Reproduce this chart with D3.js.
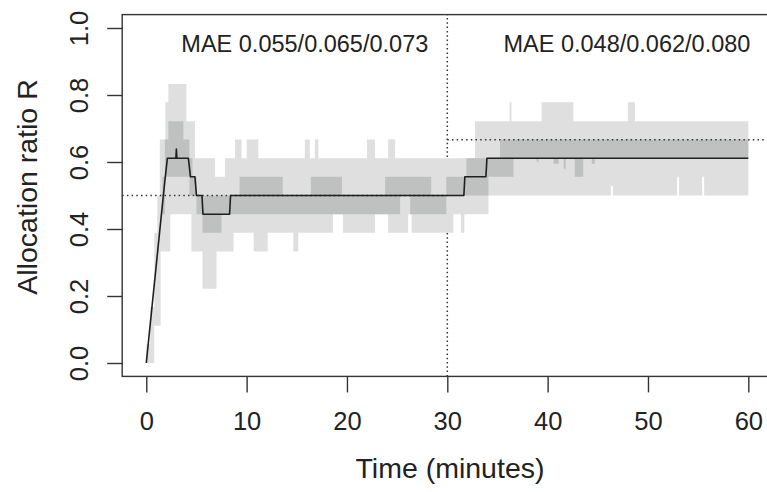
<!DOCTYPE html>
<html>
<head>
<meta charset="utf-8">
<script src="https://cdn.jsdelivr.net/npm/d3@7"></script>
<style>
  body { margin: 0; background: #fff; }
  svg { display: block; }
  text { font-family: "Liberation Sans", Arial, Helvetica, sans-serif; fill: #222; }
</style>
</head>
<body>
<svg id="chart" width="767" height="492"></svg>
<script>
// Outer (light) quantile band: each value holds from its time until the next time.
const outerTime = [0, 0.4, 0.8, 1.1, 1.35, 1.43, 1.9, 2.2, 2.4, 4.0, 4.5, 4.85, 5.6, 6.85, 7.0, 7.84, 8.7, 8.84, 9.5, 10.0, 10.7, 11.17, 12.1, 14.65, 15.15, 15.8, 16.3, 16.8, 17.15, 18.6, 19.6, 22.0, 22.8, 24.1, 24.8, 26.1, 26.45, 30.6, 31.35, 31.7, 32.76, 34.1, 36.2, 36.4, 39.4, 42.56, 46.3, 46.5, 48.0, 48.7, 52.9, 53.1, 55.4, 55.6, 60];
const outerLow  = [0, 0, 0.111, 0.111, 0.111, 0.333, 0.333, 0.333, 0.444, 0.444, 0.333, 0.333, 0.222, 0.222, 0.333, 0.333, 0.389, 0.389, 0.389, 0.389, 0.333, 0.333, 0.389, 0.333, 0.389, 0.389, 0.389, 0.389, 0.389, 0.444, 0.389, 0.389, 0.444, 0.389, 0.389, 0.444, 0.389, 0.444, 0.389, 0.444, 0.444, 0.5, 0.5, 0.5, 0.5, 0.5, 0.528, 0.5, 0.5, 0.5, 0.556, 0.5, 0.556, 0.5, 0.5];
const outerHigh = [0.056, 0.167, 0.389, 0.5, 0.667, 0.667, 0.778, 0.833, 0.833, 0.722, 0.722, 0.611, 0.611, 0.556, 0.556, 0.611, 0.611, 0.667, 0.611, 0.667, 0.667, 0.611, 0.611, 0.611, 0.611, 0.667, 0.611, 0.667, 0.611, 0.611, 0.611, 0.667, 0.611, 0.667, 0.611, 0.611, 0.611, 0.611, 0.611, 0.611, 0.722, 0.722, 0.778, 0.722, 0.778, 0.722, 0.722, 0.722, 0.778, 0.722, 0.722, 0.722, 0.722, 0.722, 0.722];

// Inner (dark) quantile band.
const innerTime = [1.6, 1.85, 2.2, 3.7, 4.3, 4.6, 5.0, 5.6, 7.5, 9.3, 13.6, 16.4, 19.5, 23.8, 25.3, 26.3, 28.4, 29.9, 31.9, 34.1, 35.25, 36.6, 38.9, 39.1, 40.6, 41.1, 41.6, 41.8, 42.7, 43.55, 44.4, 44.7, 60];
const innerLow  = [0.444, 0.556, 0.556, 0.556, 0.5, 0.5, 0.444, 0.389, 0.444, 0.444, 0.444, 0.444, 0.444, 0.444, 0.5, 0.444, 0.444, 0.5, 0.5, 0.556, 0.556, 0.611, 0.6, 0.611, 0.595, 0.611, 0.58, 0.611, 0.556, 0.611, 0.595, 0.611, 0.611];
const innerHigh = [0.556, 0.667, 0.722, 0.667, 0.611, 0.556, 0.5, 0.5, 0.5, 0.556, 0.5, 0.556, 0.5, 0.556, 0.556, 0.556, 0.5, 0.556, 0.611, 0.611, 0.667, 0.667, 0.667, 0.667, 0.667, 0.667, 0.667, 0.667, 0.667, 0.667, 0.667, 0.667, 0.667];

// Median allocation ratio over time.
const medianTime  = [0, 1.7, 1.9, 2.1, 2.95, 3.0, 3.05, 4.2, 4.4, 4.85, 5.0, 5.55, 5.65, 8.3, 8.4, 31.65, 31.75, 33.85, 33.95, 60];
const medianValue = [0, 0.5, 0.556, 0.611, 0.611, 0.639, 0.611, 0.611, 0.556, 0.556, 0.5, 0.5, 0.444, 0.444, 0.5, 0.5, 0.556, 0.556, 0.611, 0.611];

// Target ratios for the two phases and the phase boundary.
const phaseBoundary = 30;
const targetFrom  = [-2.4, 30];
const targetTo    = [30, 62.4];
const targetValue = [0.5, 2 / 3];

// Error summaries for each phase.
const maeLabels = ["MAE 0.055/0.065/0.073", "MAE 0.048/0.062/0.080"];
const maeTime = [15.8, 47.9];
const maeLevel = 0.927;

const xTicks = [0, 10, 20, 30, 40, 50, 60];
const yTicks = [0, 0.2, 0.4, 0.6, 0.8, 1.0];

const svg = d3.select("#chart");
svg.append("rect").attr("width", 767).attr("height", 492).attr("fill", "#fff");

const x = d3.scaleLinear().domain([-2.4, 62.4]).range([122.2, 772.4]);
const y = d3.scaleLinear().domain([-0.04, 1.04]).range([376.4, 14.6]);

// phase boundary (sits under the bands)
svg.append("line")
  .attr("x1", x(phaseBoundary)).attr("x2", x(phaseBoundary))
  .attr("y1", y(-0.04)).attr("y2", y(1.04))
  .attr("stroke", "#333").attr("stroke-width", 1.5)
  .attr("stroke-dasharray", "1.5,2.8");

const band = d3.area()
  .x(d => x(d.t))
  .y0(d => y(d.lo))
  .y1(d => y(d.hi))
  .curve(d3.curveStepAfter);

const outer = outerTime.map((t, i) => ({ t, lo: outerLow[i], hi: outerHigh[i] }));
const inner = innerTime.map((t, i) => ({ t, lo: innerLow[i], hi: innerHigh[i] }));

svg.append("path").datum(outer).attr("d", band).attr("fill", "#dfdfdf");
svg.append("path").datum(inner).attr("d", band).attr("fill", "#bfc0c0");

// target levels
targetValue.forEach((v, i) => {
  svg.append("line")
    .attr("x1", x(targetFrom[i])).attr("x2", x(targetTo[i]))
    .attr("y1", y(v)).attr("y2", y(v))
    .attr("stroke", "#333").attr("stroke-width", 1.5)
    .attr("stroke-dasharray", "1.5,3.2");
});

// median
const median = medianTime.map((t, i) => ({ t, v: medianValue[i] }));
svg.append("path").datum(median)
  .attr("d", d3.line().x(d => x(d.t)).y(d => y(d.v)))
  .attr("fill", "none").attr("stroke", "#1e1e1e").attr("stroke-width", 1.6)
  .attr("stroke-linejoin", "round");

// MAE annotations
maeLabels.forEach((s, i) => {
  svg.append("text")
    .attr("x", x(maeTime[i])).attr("y", y(maeLevel))
    .attr("text-anchor", "middle").attr("font-size", "23.5px")
    .text(s);
});

// frame
svg.append("rect")
  .attr("x", x(-2.4)).attr("y", y(1.04))
  .attr("width", x(62.4) - x(-2.4)).attr("height", y(-0.04) - y(1.04))
  .attr("fill", "none").attr("stroke", "#333").attr("stroke-width", 1.4);

// x axis
const gx = svg.append("g").attr("transform", `translate(0,${y(-0.04)})`)
  .call(d3.axisBottom(x).tickValues(xTicks).tickFormat(d3.format("d"))
    .tickSize(16).tickSizeOuter(0).tickPadding(19.5));
gx.select(".domain").remove();
gx.selectAll(".tick line").attr("stroke", "#333").attr("stroke-width", 1.4);
gx.selectAll(".tick text").attr("font-size", "25.5px").attr("fill", "#222")
  .attr("font-family", "Liberation Sans, Arial, sans-serif");

// y axis
const gy = svg.append("g").attr("transform", `translate(${x(-2.4)},0)`)
  .call(d3.axisLeft(y).tickValues(yTicks).tickFormat(d3.format(".1f"))
    .tickSize(15).tickSizeOuter(0));
gy.select(".domain").remove();
gy.selectAll(".tick line").attr("stroke", "#333").attr("stroke-width", 1.4);
gy.selectAll(".tick text")
  .attr("x", 0).attr("dy", 0).attr("text-anchor", "middle")
  .attr("transform", "translate(-34,0) rotate(-90)")
  .attr("font-size", "25.5px").attr("fill", "#222")
  .attr("font-family", "Liberation Sans, Arial, sans-serif");

// axis titles
svg.append("text")
  .attr("x", 450).attr("y", 478)
  .attr("text-anchor", "middle").attr("font-size", "28.5px")
  .text("Time (minutes)");
svg.append("text")
  .attr("transform", "translate(37,187) rotate(-90)")
  .attr("text-anchor", "middle").attr("font-size", "28.5px")
  .text("Allocation ratio R");
</script>
</body>
</html>
